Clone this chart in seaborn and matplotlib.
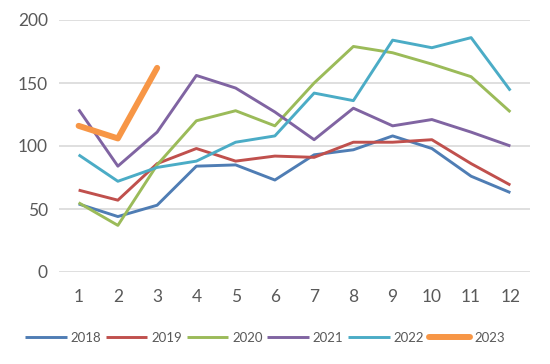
import matplotlib
matplotlib.use("Agg")
import matplotlib.pyplot as plt
import seaborn as sns
import pandas as pd

months = [1, 2, 3, 4, 5, 6, 7, 8, 9, 10, 11, 12]
v2018 = [54, 44, 53, 84, 85, 73, 93, 97, 108, 98, 76, 63]
v2019 = [65, 57, 86, 98, 88, 92, 91, 103, 103, 105, 86, 69]
v2020 = [55, 37, 85, 120, 128, 116, 150, 179, 174, 165, 155, 127]
v2021 = [129, 84, 111, 156, 146, 127, 105, 130, 116, 121, 111, 100]
v2022 = [93, 72, 83, 88, 103, 108, 142, 136, 184, 178, 186, 144]
v2023 = [116, 106, 162]
years = ["2018", "2019", "2020", "2021", "2022", "2023"]
series = [v2018, v2019, v2020, v2021, v2022, v2023]
colors = ["#4F7DB4", "#C0504D", "#9BBB59", "#8064A2", "#4BACC6", "#F79646"]
yticks = [0, 50, 100, 150, 200]

rows = []
for yr, vals in zip(years, series):
    for m, v in zip(months, vals):
        rows.append({"month": m, "value": v, "year": yr})
df = pd.DataFrame(rows)

sns.set_theme(style="white")
plt.rcParams["font.family"] = ["Lato", "DejaVu Sans"]

fig = plt.figure(figsize=(5.5, 3.64), dpi=100)
ax = fig.add_axes([59 / 550, 1 - 272 / 364, (530 - 59) / 550, (272 - 20) / 364])

for yr, c in zip(years, colors):
    lw = 4.3 if yr == "2023" else 2.1
    sns.lineplot(data=df[df["year"] == yr], x="month", y="value", color=c,
                 linewidth=lw, ax=ax, label=yr, solid_capstyle="round" if yr == "2023" else "butt")

ax.set_xlim(0.5, 12.5)
ax.set_ylim(0, 200)
ax.set_xticks(months)
ax.set_yticks(yticks)
ax.grid(axis="y", color="#D9D9D9", linewidth=1.2)
ax.set_axisbelow(True)
for s in ax.spines.values():
    s.set_visible(False)
ax.tick_params(axis="both", length=0, labelsize=12.5, colors="#595959")
ax.tick_params(axis="x", pad=12)
ax.tick_params(axis="y", pad=8)
ax.set_xlabel("")
ax.set_ylabel("")

leg = ax.legend(loc="center", bbox_to_anchor=(265 / 550, 1 - 338 / 364),
                bbox_transform=fig.transFigure, ncol=6, frameon=False,
                fontsize=9.5, handlelength=3.15, handletextpad=0.3, columnspacing=0.35,
                labelcolor="#595959")

fig.savefig("out.png", dpi=100)
